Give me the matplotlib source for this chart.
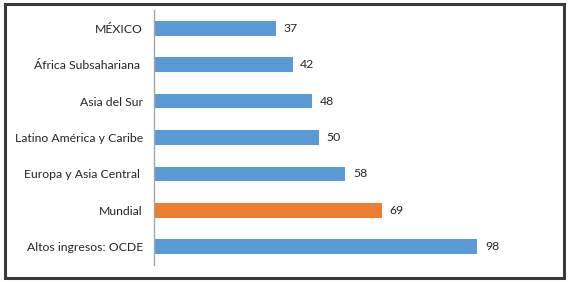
import matplotlib.pyplot as plt
from matplotlib.patches import Rectangle

categories = ['MÉXICO', 'África Subsahariana ', 'Asia del Sur', 'Latino América y Caribe',
              'Europa y Asia Central ', 'Mundial', 'Altos ingresos: OCDE']
values = [37, 42, 48, 50, 58, 69, 98]
colors = ['#5B9BD5'] * 5 + ['#ED7D31', '#5B9BD5']

plt.rcParams['font.family'] = ['Lato', 'DejaVu Sans']

W, H = 568, 282
fig = plt.figure(figsize=(W / 100, H / 100), dpi=100)
ax = fig.add_axes([154 / W, (H - 265) / H, 396 / W, 255 / H])

y = list(range(len(categories)))
bars = ax.barh(y, values, height=0.4, color=colors)
for b, v in zip(bars, values):
    ax.text(b.get_width() + 2.3, b.get_y() + b.get_height() / 2, str(v),
            va='center', ha='left', fontsize=8.8, color='#262626')

ax.set_yticks(y)
ax.set_yticklabels(categories, fontsize=8.8, color='#262626')
ax.set_ylim(6.5, -0.5)
ax.set_xlim(0, 120)
ax.set_xticks([])
ax.tick_params(axis='y', length=0, pad=8)
for s in ['top', 'right', 'bottom']:
    ax.spines[s].set_visible(False)
ax.spines['left'].set_color('#A6A6A6')
ax.spines['left'].set_linewidth(1.0)

fig.patches.append(Rectangle((4.5 / W, 4 / H), 559 / W, 274 / H, transform=fig.transFigure,
                             fill=False, edgecolor='#3A3A3A', linewidth=2.2))

fig.savefig('out.png', dpi=100)
